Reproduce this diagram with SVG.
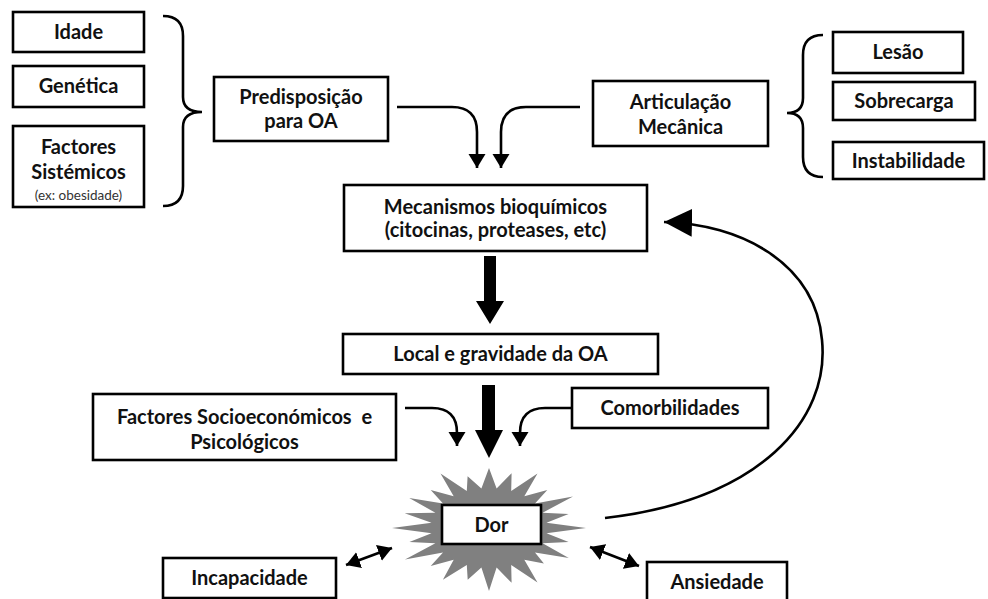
<svg xmlns="http://www.w3.org/2000/svg" width="988" height="599" viewBox="0 0 988 599">
<style>
.box{fill:#fff;stroke:#000;stroke-width:2.6}
.t{font-family:Lato,"Open Sans","DejaVu Sans",sans-serif;font-weight:bold;font-size:20px;fill:#111;text-anchor:middle}
.s{font-family:Lato,"Open Sans","DejaVu Sans",sans-serif;font-size:13.5px;fill:#333;text-anchor:middle}
.ln{fill:none;stroke:#000;stroke-width:2.6}
.brace{fill:none;stroke:#000;stroke-width:2.6}
</style>
<defs>
<marker id="ah" markerUnits="userSpaceOnUse" markerWidth="18" markerHeight="18" refX="14" refY="8.5" orient="auto-start-reverse">
<path d="M0,0 L14,8.5 L0,17 Z" fill="#000"/>
</marker>
<marker id="big" markerUnits="userSpaceOnUse" markerWidth="30" markerHeight="30" refX="28" refY="14" orient="auto">
<path d="M0,0 L28,14 L0,28 Z" fill="#000"/>
</marker>
</defs>

<g id="idade"><rect class="box" x="13" y="12" width="131" height="40"/><text class="t" x="78.5" y="39">Idade</text></g>
<g id="genetica"><rect class="box" x="13" y="66" width="131" height="41"/><text class="t" x="78.5" y="93">Genética</text></g>
<g id="sistemicos"><rect class="box" x="13" y="126" width="131" height="81"/><text class="t" x="78.5" y="154">Factores</text><text class="t" x="78.5" y="179">Sistémicos</text><text class="s" x="78.5" y="200">(ex: obesidade)</text></g>
<path class="brace" d="M163,16 Q183,16 183,36 L183,97 Q183,112 202,112 Q183,112 183,127 L183,186 Q183,206 163,206"/>
<g id="predisposicao"><rect class="box" x="214" y="77" width="174" height="64"/><text class="t" x="301" y="104">Predisposição</text><text class="t" x="301" y="128">para OA</text></g>

<g id="articulacao"><rect class="box" x="593" y="81" width="175" height="65"/><text class="t" x="680.5" y="109">Articulação</text><text class="t" x="680.5" y="134">Mecânica</text></g>
<path class="brace" d="M823,35 Q803,35 803,55 L803,98 Q803,113 787,113 Q803,113 803,128 L803,157 Q803,177 823,177"/>
<g id="lesao"><rect class="box" x="833" y="32" width="130" height="41"/><text class="t" x="898" y="59">Lesão</text></g>
<g id="sobrecarga"><rect class="box" x="833" y="82" width="142" height="38"/><text class="t" x="904" y="108">Sobrecarga</text></g>
<g id="instabilidade"><rect class="box" x="833" y="142" width="151" height="37"/><text class="t" x="908.5" y="168">Instabilidade</text></g>

<g id="mecanismos"><rect class="box" x="344" y="185" width="303" height="66"/><text class="t" x="495.5" y="214">Mecanismos bioquímicos</text><text class="t" x="495.5" y="237">(citocinas, proteases, etc)</text></g>
<g id="local"><rect class="box" x="343" y="334" width="315" height="40"/><text class="t" x="500.5" y="361">Local e gravidade da OA</text></g>
<g id="socio"><rect class="box" x="93" y="394" width="303" height="66"/><text class="t" x="244.5" y="424" style="white-space:pre">Factores Socioeconómicos  e</text><text class="t" x="244.5" y="449">Psicológicos</text></g>
<g id="comorbilidades"><rect class="box" x="572" y="388" width="196" height="40"/><text class="t" x="670" y="415">Comorbilidades</text></g>

<g id="dor">
<polygon fill="#808080" points="586,528 546.5,533.2 568.6,541.9 542.6,543.3 568.8,557.9 535,552.4 543.9,563.6 524.3,559.7 537.5,582.6 511.2,565 511.6,582.8 496.6,567.6 489,591 481.4,567.6 467.7,579.7 466.8,565 442.9,579.8 453.7,559.7 430.7,565.9 443,552.4 405,559.5 435.4,543.3 409.4,541.9 431.5,533.2 392,528 431.5,522.8 404.7,513.3 435.4,512.7 409.2,498.1 443,503.6 430.7,490.1 453.7,496.3 440.5,473.4 466.8,491 467.6,476.3 481.4,488.4 489,468.1 496.6,488.4 511.6,473.2 511.2,491 537.5,473.4 524.3,496.3 547.3,490.1 535,503.6 573,496.5 542.6,512.7 568.6,514.1 546.5,522.8"/>
<rect class="box" x="442" y="505" width="99" height="39"/><text class="t" x="491.5" y="532">Dor</text>
</g>
<g id="incapacidade"><rect class="box" x="163" y="558" width="173" height="40"/><text class="t" x="249.5" y="585">Incapacidade</text></g>
<g id="ansiedade"><rect class="box" x="647" y="562" width="140" height="40"/><text class="t" x="717" y="589">Ansiedade</text></g>

<g id="connectors">
<path class="ln" d="M397,107 L452,107 Q477,107 477,132 L477,168" marker-end="url(#ah)"/>
<path class="ln" d="M580,107 L526,107 Q501,107 501,132 L501,168" marker-end="url(#ah)"/>
<polygon points="484,256 496,256 496,301 504,301 490,324 476,301 484,301" fill="#000"/>
<polygon points="482,385 495,385 495,430 503,430 489,458 475,430 482,430" fill="#000"/>
<path class="ln" d="M405,408 L432,408 Q457,408 457,433 L457,446" marker-end="url(#ah)"/>
<path class="ln" d="M572,408 L545,408 Q520,408 520,433 L520,446" marker-end="url(#ah)"/>
<path class="ln" d="M346,565 L392,548" marker-start="url(#ah)" marker-end="url(#ah)"/>
<path class="ln" d="M590,547 L639,566" marker-start="url(#ah)" marker-end="url(#ah)"/>
<path class="ln" stroke-width="3" d="M605,518 C760,500 830,420 822,340 C815,262 740,224 664,222" marker-end="url(#big)"/>
</g>
</svg>
